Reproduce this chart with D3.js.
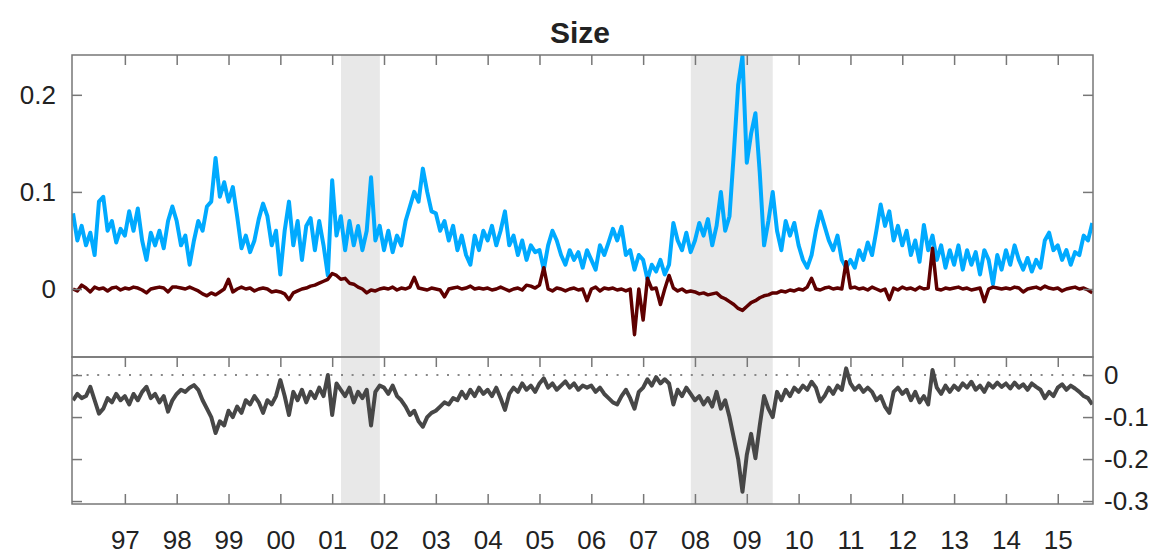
<!DOCTYPE html>
<html>
<head>
<meta charset="utf-8">
<script src="https://cdn.jsdelivr.net/npm/d3@7"></script>
<style>
  body { margin: 0; background: #fff; }
  svg text { font-family: "Liberation Sans", Arial, Helvetica, sans-serif; fill: #222; }
</style>
</head>
<body>
<div id="container"></div>
<script>
/**
 * DATA (monthly, starting Jan 1996)
 * */
const startYear = 1996;
const perYear = 12;

// light blue line, upper panel
const sizeTotal = [
  0.078, 0.05, 0.065, 0.045, 0.058, 0.035, 0.09, 0.095, 0.06, 0.07, 0.048, 0.062,   // 1996
  0.055, 0.08, 0.06, 0.083, 0.05, 0.03, 0.058, 0.045, 0.06, 0.042, 0.07, 0.085,     // 1997
  0.07, 0.045, 0.055, 0.025, 0.05, 0.07, 0.06, 0.085, 0.09, 0.135, 0.095, 0.11,     // 1998
  0.09, 0.105, 0.075, 0.042, 0.055, 0.038, 0.05, 0.072, 0.088, 0.075, 0.045, 0.06,  // 1999
  0.015, 0.06, 0.09, 0.045, 0.07, 0.03, 0.065, 0.073, 0.04, 0.07, 0.045, 0.014,     // 2000
  0.112, 0.055, 0.075, 0.04, 0.07, 0.045, 0.065, 0.04, 0.06, 0.115, 0.05, 0.065,   // 2001
  0.04, 0.06, 0.038, 0.055, 0.045, 0.07, 0.085, 0.1, 0.09, 0.124, 0.1, 0.08,        // 2002
  0.078, 0.06, 0.07, 0.05, 0.065, 0.04, 0.055, 0.035, 0.025, 0.055, 0.04, 0.06,    // 2003
  0.05, 0.065, 0.045, 0.06, 0.08, 0.045, 0.055, 0.035, 0.05, 0.03, 0.045, 0.038,   // 2004
  0.04, 0.02, 0.045, 0.06, 0.05, 0.035, 0.025, 0.04, 0.03, 0.038, 0.022, 0.04,     // 2005
  0.03, 0.02, 0.045, 0.035, 0.048, 0.062, 0.05, 0.064, 0.035, 0.04, 0.02, 0.035,   // 2006
  0.03, 0.01, 0.025, 0.018, 0.03, 0.015, 0.025, 0.068, 0.05, 0.04, 0.058, 0.038,   // 2007
  0.05, 0.068, 0.055, 0.072, 0.045, 0.065, 0.1, 0.06, 0.075, 0.14, 0.21, 0.24,     // 2008
  0.13, 0.16, 0.181, 0.12, 0.045, 0.07, 0.1, 0.06, 0.04, 0.07, 0.055, 0.068,       // 2009
  0.045, 0.03, 0.022, 0.035, 0.06, 0.08, 0.065, 0.05, 0.04, 0.055, 0.03, 0.022,    // 2010
  0.03, 0.022, 0.04, 0.03, 0.048, 0.035, 0.06, 0.087, 0.065, 0.08, 0.05, 0.065,    // 2011
  0.045, 0.06, 0.035, 0.05, 0.028, 0.066, 0.04, 0.055, 0.03, 0.045, 0.022, 0.04,   // 2012
  0.025, 0.045, 0.02, 0.04, 0.025, 0.038, 0.015, 0.04, 0.03, 0.005, 0.035, 0.02,   // 2013
  0.04, 0.025, 0.045, 0.03, 0.02, 0.032, 0.018, 0.03, 0.022, 0.05, 0.058, 0.04,    // 2014
  0.045, 0.03, 0.04, 0.025, 0.038, 0.035, 0.055, 0.05, 0.068                       // 2015
];

// dark red line, upper panel
const sizeOther = [
  0.0, -0.002, 0.004, 0.001, -0.003, 0.002, 0.0, 0.001, -0.002, 0.001, 0.002, -0.001,
  0.001, 0.0, 0.002, 0.001, -0.001, -0.004, 0.0, 0.001, 0.002, 0.001, -0.003, 0.002,
  0.002, 0.001, 0.0, 0.002, 0.0, -0.002, -0.005, -0.007, -0.004, -0.006, -0.003, 0.0,
  0.01, -0.003, 0.0, 0.002, 0.0, 0.001, -0.002, 0.0, 0.001, 0.0, -0.003, -0.002,
  -0.003, -0.005, -0.011, -0.004, -0.002, 0.0, 0.001, 0.003, 0.004, 0.006, 0.008, 0.01,
  0.016, 0.014, 0.01, 0.011, 0.006, 0.005, 0.002, 0.0, -0.004, -0.001, -0.002, 0.0,
  0.001, 0.0, 0.002, -0.001, 0.001, 0.0, 0.002, 0.012, 0.001, 0.0, -0.001, 0.001,
  0.0, -0.001, -0.008, 0.0, 0.001, 0.002, 0.0, 0.001, 0.003, 0.0, 0.001, 0.0,
  0.001, -0.001, 0.0, 0.002, 0.0, -0.002, 0.0, 0.001, -0.001, 0.004, 0.003, 0.001,
  0.004, 0.022, 0.0, -0.002, 0.001, 0.0, -0.002, 0.0, 0.001, -0.001, 0.0, -0.012,
  0.0, 0.002, -0.002, 0.001, 0.0, 0.001, -0.001, 0.0, -0.002, 0.0, -0.047, 0.0,
  -0.032, 0.011, 0.0, 0.001, -0.016, 0.0, 0.014, 0.001, -0.002, 0.0, -0.003, -0.002,
  -0.003, -0.005, -0.004, -0.006, -0.005, -0.004, -0.008, -0.01, -0.013, -0.016, -0.02, -0.022,
  -0.018, -0.014, -0.012, -0.009, -0.007, -0.006, -0.004, -0.004, -0.002, -0.003, -0.001, -0.002,
  0.0, -0.001, 0.002, 0.011, 0.0, -0.001, 0.001, 0.002, 0.0, 0.001, 0.0, 0.028,
  0.001, 0.002, 0.0, 0.001, -0.001, 0.002, 0.0, -0.002, 0.0, -0.011, 0.001, -0.001,
  0.002, 0.0, 0.001, -0.001, 0.002, 0.0, 0.001, 0.042, 0.0, -0.001, 0.001, 0.0,
  0.001, 0.002, 0.0, 0.001, -0.001, 0.0, 0.001, -0.013, 0.0, 0.002, 0.001, 0.0,
  0.001, 0.0, 0.002, 0.001, -0.003, 0.0, 0.001, 0.002, 0.0, 0.003, 0.001, 0.0,
  0.001, -0.002, 0.0, 0.001, 0.002, 0.0, 0.001, -0.001, -0.004
];

// grey line, lower panel
const sizeGap = [
  -0.06, -0.045, -0.055, -0.05, -0.028, -0.06, -0.092, -0.08, -0.055, -0.065, -0.045, -0.06,
  -0.05, -0.07, -0.045, -0.06, -0.04, -0.028, -0.055, -0.045, -0.065, -0.05, -0.087, -0.06,
  -0.045, -0.035, -0.04, -0.03, -0.024, -0.035, -0.06, -0.08, -0.1, -0.138, -0.11, -0.12,
  -0.085, -0.1, -0.075, -0.09, -0.06, -0.07, -0.05, -0.065, -0.09, -0.06, -0.07, -0.05,
  -0.012, -0.05, -0.095, -0.04, -0.06, -0.035, -0.065, -0.04, -0.055, -0.03, -0.05, 0.0,
  -0.095, -0.02, -0.035, -0.05, -0.03, -0.065, -0.04, -0.055, -0.035, -0.12, -0.04, -0.025,
  -0.03, -0.045, -0.025, -0.05, -0.06, -0.075, -0.095, -0.085, -0.11, -0.123, -0.1, -0.09,
  -0.085, -0.075, -0.065, -0.07, -0.055, -0.06, -0.04, -0.055, -0.035, -0.05, -0.03, -0.045,
  -0.035, -0.05, -0.03, -0.055, -0.083, -0.045, -0.03, -0.04, -0.02, -0.035, -0.025, -0.04,
  -0.02, -0.008, -0.03, -0.02, -0.035, -0.025, -0.015, -0.03, -0.02, -0.035, -0.025, -0.03,
  -0.025, -0.04, -0.03, -0.045, -0.055, -0.065, -0.07, -0.05, -0.035, -0.055, -0.08, -0.04,
  -0.03, -0.01, -0.025, -0.005, -0.02, -0.01, -0.02, -0.07, -0.035, -0.05, -0.03, -0.045,
  -0.06, -0.05, -0.07, -0.055, -0.075, -0.04, -0.08, -0.06, -0.1, -0.15, -0.2, -0.278,
  -0.19, -0.14, -0.198, -0.12, -0.05, -0.08, -0.1, -0.04, -0.06, -0.035, -0.05, -0.03,
  -0.04, -0.025, -0.035, -0.016, -0.03, -0.063, -0.05, -0.03, -0.045, -0.025, -0.035, 0.016,
  -0.02, -0.035, -0.025, -0.04, -0.03, -0.04, -0.06, -0.05, -0.075, -0.09, -0.04, -0.03,
  -0.045, -0.035, -0.06, -0.04, -0.065, -0.05, -0.07, 0.012, -0.03, -0.045, -0.025, -0.04,
  -0.025, -0.035, -0.02, -0.03, -0.016, -0.035, -0.025, -0.04, -0.02, -0.03, -0.018, -0.028,
  -0.02, -0.032, -0.018, -0.03, -0.022, -0.035, -0.02, -0.028, -0.035, -0.055, -0.04, -0.05,
  -0.03, -0.022, -0.035, -0.025, -0.032, -0.04, -0.05, -0.055, -0.07
];

const yearTicks = [1997, 1998, 1999, 2000, 2001, 2002, 2003, 2004, 2005, 2006,
                   2007, 2008, 2009, 2010, 2011, 2012, 2013, 2014, 2015];
const upperTicks = [0, 0.1, 0.2];
const upperLabels = ["0", "0.1", "0.2"];
const lowerTicks = [0, -0.1, -0.2, -0.3];
const lowerLabels = ["0", "-0.1", "-0.2", "-0.3"];
const recessions = [[2001.17, 2001.92], [2007.92, 2009.5]];

/**
 * LAYOUT
 * */
const width = 1160, height = 554;
const left = 72, right = 1093;
const upTop = 55, upBottom = 357, lowTop = 357, lowBottom = 504;
const axisColor = "#777";

const svg = d3.select("#container")
  .append("svg")
  .attr("width", width)
  .attr("height", height);

const x = d3.scaleLinear().domain([1995.98, 2015.68]).range([left, right]);
const yUp = d3.scaleLinear().domain([-0.07, 0.241]).range([upBottom, upTop]);
const yLow = d3.scaleLinear().domain([-0.307, 0.043]).range([lowBottom, lowTop]);

const dateOf = i => startYear + i / perYear;

// recession shading over both panels
svg.selectAll("rect.rec")
  .data(recessions)
  .join("rect")
  .attr("class", "rec")
  .attr("x", d => x(d[0]))
  .attr("width", d => x(d[1]) - x(d[0]))
  .attr("y", upTop)
  .attr("height", lowBottom - upTop)
  .attr("fill", "#e8e8e8");

// clips
const defs = svg.append("defs");
defs.append("clipPath").attr("id", "clipUp").append("rect")
  .attr("x", left).attr("y", upTop).attr("width", right - left).attr("height", upBottom - upTop);
defs.append("clipPath").attr("id", "clipLow").append("rect")
  .attr("x", left).attr("y", lowTop).attr("width", right - left).attr("height", lowBottom - lowTop);

// dotted zero line, lower panel
svg.append("line")
  .attr("x1", left + 4).attr("x2", right)
  .attr("y1", yLow(0)).attr("y2", yLow(0))
  .attr("stroke", "#888")
  .attr("stroke-width", 2)
  .attr("stroke-dasharray", "2,8.6");

const lineUp = d3.line().x((d, i) => x(dateOf(i))).y(d => yUp(d));
const lineLow = d3.line().x((d, i) => x(dateOf(i))).y(d => yLow(d));

svg.append("path")
  .datum(sizeTotal)
  .attr("clip-path", "url(#clipUp)")
  .attr("d", lineUp)
  .attr("fill", "none")
  .attr("stroke", "#00aaff")
  .attr("stroke-width", 4)
  .attr("stroke-linejoin", "round");

svg.append("path")
  .datum(sizeOther)
  .attr("clip-path", "url(#clipUp)")
  .attr("d", lineUp)
  .attr("fill", "none")
  .attr("stroke", "#5e0000")
  .attr("stroke-width", 3.5)
  .attr("stroke-linejoin", "round");

svg.append("path")
  .datum(sizeGap)
  .attr("clip-path", "url(#clipLow)")
  .attr("d", lineLow)
  .attr("fill", "none")
  .attr("stroke", "#474747")
  .attr("stroke-width", 4)
  .attr("stroke-linejoin", "round");

/**
 * AXES
 * */
function styleAxis(g) {
  g.select(".domain").remove();
  g.selectAll(".tick line").attr("stroke", axisColor).attr("stroke-width", 1.5);
  g.selectAll(".tick text").attr("font-size", 26).attr("fill", "#222");
}

// top ticks of upper panel
svg.append("g")
  .attr("transform", `translate(0,${upTop})`)
  .call(d3.axisTop(x).tickValues(yearTicks).tickSize(-10).tickFormat(""))
  .call(styleAxis);

// top ticks of lower panel
svg.append("g")
  .attr("transform", `translate(0,${lowTop})`)
  .call(d3.axisTop(x).tickValues(yearTicks).tickSize(-10).tickFormat(""))
  .call(styleAxis);

// bottom axis with year labels
svg.append("g")
  .attr("transform", `translate(0,${lowBottom})`)
  .call(d3.axisBottom(x).tickValues(yearTicks).tickSize(-10).tickPadding(27)
    .tickFormat(d => String(d).slice(2)))
  .call(styleAxis);

// upper panel y axes
svg.append("g")
  .attr("transform", `translate(${left},0)`)
  .call(d3.axisLeft(yUp).tickValues(upperTicks).tickSize(-10).tickPadding(16)
    .tickFormat((d, i) => upperLabels[i]))
  .call(styleAxis);

svg.append("g")
  .attr("transform", `translate(${right},0)`)
  .call(d3.axisRight(yUp).tickValues(upperTicks).tickSize(-10).tickFormat(""))
  .call(styleAxis);

// lower panel y axes
svg.append("g")
  .attr("transform", `translate(${left},0)`)
  .call(d3.axisLeft(yLow).tickValues(lowerTicks).tickSize(-10).tickFormat(""))
  .call(styleAxis);

svg.append("g")
  .attr("transform", `translate(${right},0)`)
  .call(d3.axisRight(yLow).tickValues(lowerTicks).tickSize(-10).tickPadding(11)
    .tickFormat((d, i) => lowerLabels[i]))
  .call(styleAxis);

// panel frames
[[upTop, upBottom], [lowTop, lowBottom]].forEach(([t, b]) => {
  svg.append("rect")
    .attr("x", left).attr("y", t)
    .attr("width", right - left).attr("height", b - t)
    .attr("fill", "none")
    .attr("stroke", axisColor)
    .attr("stroke-width", 1.5);
});

// title
svg.append("text")
  .attr("x", 580)
  .attr("y", 43)
  .attr("text-anchor", "middle")
  .attr("font-size", 30)
  .attr("font-weight", "bold")
  .text("Size");
</script>
</body>
</html>
